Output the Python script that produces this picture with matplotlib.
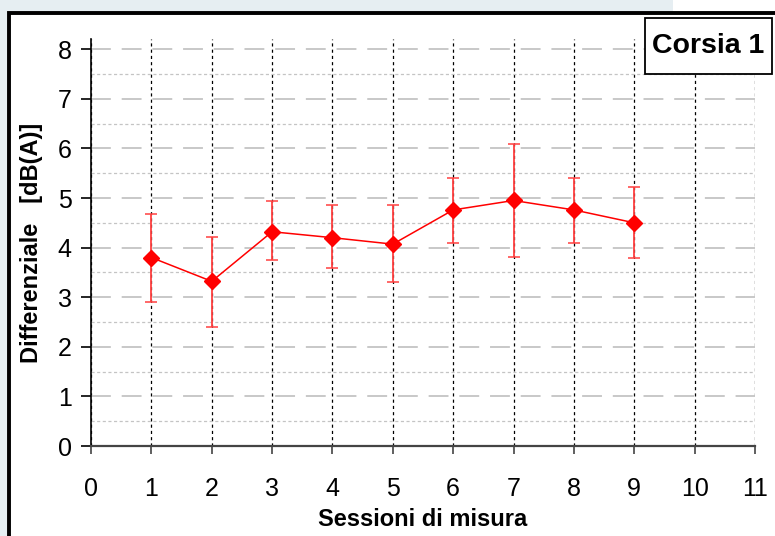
import matplotlib.pyplot as plt
from matplotlib.patches import Rectangle

# dati
sessioni = [1, 2, 3, 4, 5, 6, 7, 8, 9]
differenziale = [3.80, 3.32, 4.32, 4.20, 4.07, 4.76, 4.95, 4.76, 4.50]
err_alto = [4.67, 4.22, 4.93, 4.85, 4.85, 5.40, 6.08, 5.40, 5.22]
err_basso = [2.91, 2.39, 3.75, 3.58, 3.30, 4.09, 3.82, 4.09, 3.80]
xticks = list(range(0, 12))
yticks = list(range(0, 9))

plt.rcParams['font.family'] = ['Liberation Sans', 'DejaVu Sans']

W, H = 775, 536
fig = plt.figure(figsize=(W / 100, H / 100), dpi=100)
fig.patch.set_facecolor('#e6eef2')

# sfondo bianco dentro la cornice e angolo in alto a destra
fig.patches.append(Rectangle((7 / W, 0), 1, 1 - 11 / H, transform=fig.transFigure,
                             facecolor='white', edgecolor='none', zorder=-2))
fig.patches.append(Rectangle((673 / W, 1 - 11 / H), 1, 1, transform=fig.transFigure,
                             facecolor='white', edgecolor='none', zorder=-2))
fig.patches.append(Rectangle((9 / W, -0.1), 1.2, 1.1 - 13 / H, transform=fig.transFigure,
                             facecolor='none', edgecolor='black', lw=2.8, zorder=-1))

ax = fig.add_axes([91 / W, 90 / H, 664 / W, 406.7 / H])
ax.set_facecolor('none')

ax.set_xlim(0, 11)
ax.set_ylim(0, 8.2)
ax.set_xticks(xticks)
ax.set_yticks(yticks)
ax.set_yticks([v + 0.5 for v in yticks[:-1]], minor=True)

ax.yaxis.grid(True, which='major', color='#c4c4c4', linestyle=(0, (11, 6)), lw=1.3)
ax.yaxis.grid(True, which='minor', color='#c4c4c4', linestyle=(0, (2.5, 2)), lw=0.9)
ax.xaxis.grid(True, which='major', color='black', linestyle=(0, (2.5, 2.5)), lw=0.9)
ax.set_axisbelow(True)

ax.spines['top'].set_visible(False)
ax.spines['right'].set_visible(False)
ax.spines['left'].set_linewidth(1.2)
ax.spines['bottom'].set_color('#444444')
ax.spines['bottom'].set_linewidth(1.6)

ax.tick_params(axis='y', which='major', direction='out', length=7, width=1.2, pad=7, labelsize=18)
ax.tick_params(axis='y', which='minor', length=0)
ax.tick_params(axis='x', which='major', direction='out', length=6, width=1.2, pad=16,
               labelsize=18, color='#444444')

yerr = [[d - b for d, b in zip(differenziale, err_basso)],
        [a - d for d, a in zip(differenziale, err_alto)]]
ax.errorbar(sessioni, differenziale, yerr=yerr, color='red', lw=1.1, ecolor='#ff4040',
            elinewidth=1.3, capsize=4.5, capthick=1.1, marker='D', markersize=8.5,
            markerfacecolor='red', markeredgecolor='red', zorder=5, clip_on=False)

ax.set_xlabel('Sessioni di misura', fontsize=17, fontweight='bold', labelpad=5)
ax.set_ylabel('Differenziale   [dB(A)]', fontsize=17, fontweight='bold')
ax.yaxis.set_label_coords(-0.072, 0.5)

# riquadro "Corsia 1"
fig.patches.append(Rectangle((645 / W, 1 - 74 / H), 127 / W, 56 / H, transform=fig.transFigure,
                             facecolor='white', edgecolor='black', lw=1.3, zorder=10))
fig.text(708 / W, 1 - 46 / H, 'Corsia 1', fontsize=20.5, fontweight='bold',
         ha='center', va='center', zorder=11)

fig.savefig('out.png', dpi=100)
